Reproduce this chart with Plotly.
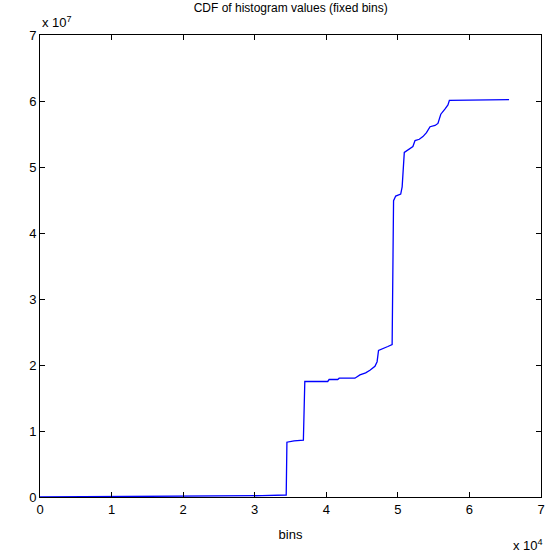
import plotly.graph_objects as go

# CDF data (x: bin index, y: cumulative count)
bins = [0, 28000, 31000, 34400, 34500, 35500, 36800, 37000, 40200, 40400, 41600,
        41800, 44000, 44700, 45500, 46100, 46800, 47100, 47300, 48600, 49200,
        49400, 49700, 50400, 50600, 50900, 51600, 52100, 52400, 53000, 53500,
        54000, 54500, 55200, 55600, 56000, 56600, 57000, 57200, 65536]
cdf = [0, 0.01e7, 0.02e7, 0.03e7, 0.83e7, 0.85e7, 0.86e7, 1.75e7, 1.75e7, 1.78e7,
       1.78e7, 1.80e7, 1.80e7, 1.85e7, 1.88e7, 1.92e7, 1.98e7, 2.05e7, 2.22e7,
       2.28e7, 2.31e7, 4.49e7, 4.56e7, 4.59e7, 4.70e7, 5.22e7, 5.28e7, 5.31e7,
       5.40e7, 5.42e7, 5.46e7, 5.52e7, 5.61e7, 5.63e7, 5.66e7, 5.80e7, 5.88e7,
       5.94e7, 6.01e7, 6.02e7]

x_ticks = [0, 1e4, 2e4, 3e4, 4e4, 5e4, 6e4, 7e4]
x_labels = ["0", "1", "2", "3", "4", "5", "6", "7"]
y_ticks = [0, 1e7, 2e7, 3e7, 4e7, 5e7, 6e7, 7e7]
y_labels = ["0", "1", "2", "3", "4", "5", "6", "7"]

font = dict(family="Liberation Sans, Arial, sans-serif", size=13, color="black")

fig = go.Figure()
fig.add_trace(go.Scatter(x=bins, y=cdf, mode="lines", line=dict(color="#0000ff", width=1.3),
                         showlegend=False))

axis_common = dict(showline=True, linecolor="black", linewidth=1, mirror="ticks",
                   ticks="inside", ticklen=5, tickcolor="black", showgrid=False,
                   zeroline=False, tickfont=font)
fig.update_xaxes(range=[0, 7e4], tickvals=x_ticks, ticktext=x_labels,
                 title=dict(text="bins", font=font, standoff=14), **axis_common)
fig.update_yaxes(range=[0, 7e7], tickvals=y_ticks, ticktext=y_labels, **axis_common)

fig.update_layout(
    width=559, height=557,
    margin=dict(l=40, r=18, t=35, b=60),
    plot_bgcolor="white", paper_bgcolor="white",
    title=dict(text="CDF of histogram values (fixed bins)", font=dict(family=font["family"], size=12, color="black"),
               x=0.52, xanchor="center", y=0.993, yanchor="top"),
    annotations=[
        dict(text="x 10<sup>7</sup>", xref="paper", yref="paper", x=0, y=1, xanchor="left", yanchor="bottom",
             yshift=3, showarrow=False, font=font),
        dict(text="x 10<sup>4</sup>", xref="paper", yref="paper", x=1, y=0, xanchor="right", yanchor="top",
             yshift=-38, xshift=4, showarrow=False, font=font),
    ],
)

fig.write_html("out.html")
